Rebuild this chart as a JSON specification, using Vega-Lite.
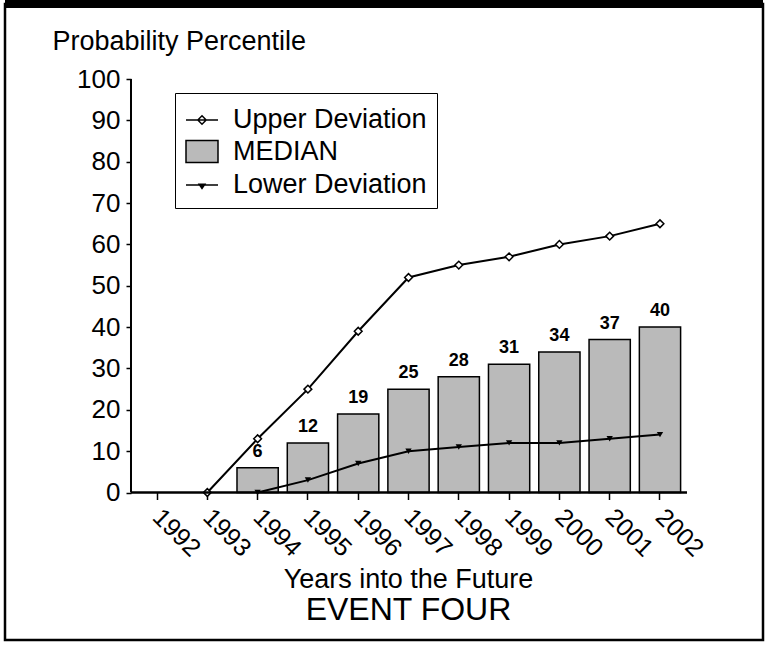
{
  "$schema": "https://vega.github.io/schema/vega-lite/v6.json",
  "width": 768,
  "height": 646,
  "autosize": {"type": "fit", "contains": "padding"},
  "padding": {"left": 1, "top": 0, "right": 1, "bottom": 6},
  "background": "white",
  "config": {
    "font": "Liberation Sans",
    "view": {"stroke": "black", "strokeWidth": 2.5},
    "axis": {
      "grid": false,
      "domain": false,
      "labelColor": "black",
      "labelFont": "Liberation Sans",
      "titleColor": "black",
      "titleFont": "Liberation Sans",
      "titleFontWeight": "normal",
      "tickColor": "black",
      "tickWidth": 1.5
    },
    "legend": {
      "orient": "none",
      "legendX": 170,
      "legendY": 89,
      "title": null,
      "labelFont": "Liberation Sans",
      "labelFontSize": 27,
      "labelColor": "black",
      "labelLimit": 400,
      "labelOffset": 14,
      "symbolSize": 1024,
      "symbolOpacity": 1,
      "symbolStrokeWidth": 1.5,
      "strokeColor": "black",
      "fillColor": "white",
      "padding": 10,
      "rowPadding": 1.5
    },
    "text": {"font": "Liberation Sans", "color": "black"}
  },
  "datasets": {
    "years": [
      {"year": "1992", "median": null, "upper": null, "lower": null},
      {"year": "1993", "median": null, "upper": 0, "lower": null},
      {"year": "1994", "median": 6, "upper": 13, "lower": 0},
      {"year": "1995", "median": 12, "upper": 25, "lower": 3},
      {"year": "1996", "median": 19, "upper": 39, "lower": 7},
      {"year": "1997", "median": 25, "upper": 52, "lower": 10},
      {"year": "1998", "median": 28, "upper": 55, "lower": 11},
      {"year": "1999", "median": 31, "upper": 57, "lower": 12},
      {"year": "2000", "median": 34, "upper": 60, "lower": 12},
      {"year": "2001", "median": 37, "upper": 62, "lower": 13},
      {"year": "2002", "median": 40, "upper": 65, "lower": 14}
    ],
    "series": [
      {"series": "Upper Deviation"},
      {"series": "MEDIAN"},
      {"series": "Lower Deviation"}
    ],
    "caption": [{"label": "EVENT FOUR"}]
  },
  "layer": [
    {
      "data": {"name": "years"},
      "transform": [{"filter": "datum.median != null"}],
      "mark": {"type": "bar", "fill": "#bababa", "stroke": "black", "strokeWidth": 1.5},
      "encoding": {
        "x": {
          "field": "year",
          "type": "nominal",
          "sort": ["1992", "1993", "1994", "1995", "1996", "1997", "1998", "1999", "2000", "2001", "2002"],
          "scale": {
            "domain": ["1992", "1993", "1994", "1995", "1996", "1997", "1998", "1999", "2000", "2001", "2002"],
            "range": [131.4, 675.6],
            "paddingInner": 0.18,
            "paddingOuter": 0
          },
          "axis": {
            "orient": "bottom",
            "offset": -147.5,
            "title": "Years into the Future",
            "titleFontSize": 27,
            "titleX": 403,
            "titleY": 95,
            "titleAlign": "center",
            "titleBaseline": "alphabetic",
            "labelAngle": 45,
            "labelAlign": "left",
            "labelBaseline": "middle",
            "labelFontSize": 25,
            "labelPadding": 13,
            "tickSize": 7
          }
        },
        "y": {
          "field": "median",
          "type": "quantitative",
          "scale": {"domain": [-35.67, 118.14], "nice": false, "zero": false},
          "axis": {
            "orient": "left",
            "offset": -126,
            "values": [0, 10, 20, 30, 40, 50, 60, 70, 80, 90, 100],
            "labelFontSize": 26,
            "labelPadding": 6,
            "tickSize": 5,
            "title": "Probability Percentile",
            "titleFontSize": 27,
            "titleAngle": 0,
            "titleAlign": "left",
            "titleBaseline": "alphabetic",
            "titleX": -79,
            "titleY": 45
          }
        }
      }
    },
    {
      "data": {"name": "years"},
      "transform": [{"filter": "datum.median != null"}],
      "mark": {"type": "text", "baseline": "bottom", "dy": -7, "fontSize": 18, "fontWeight": "bold"},
      "encoding": {
        "x": {"field": "year", "type": "nominal"},
        "y": {"field": "median", "type": "quantitative"},
        "text": {"field": "median", "type": "quantitative"}
      }
    },
    {
      "data": {"name": "years"},
      "transform": [{"filter": "datum.upper != null"}],
      "mark": {"type": "line", "color": "black", "strokeWidth": 2},
      "encoding": {
        "x": {"field": "year", "type": "nominal"},
        "y": {"field": "upper", "type": "quantitative"}
      }
    },
    {
      "data": {"name": "years"},
      "transform": [{"filter": "datum.upper != null"}],
      "mark": {"type": "point", "shape": "diamond", "size": 60, "filled": true, "fill": "white", "stroke": "black", "strokeWidth": 1.5, "opacity": 1},
      "encoding": {
        "x": {"field": "year", "type": "nominal"},
        "y": {"field": "upper", "type": "quantitative"}
      }
    },
    {
      "data": {"name": "years"},
      "transform": [{"filter": "datum.lower != null"}],
      "mark": {"type": "line", "color": "black", "strokeWidth": 2},
      "encoding": {
        "x": {"field": "year", "type": "nominal"},
        "y": {"field": "lower", "type": "quantitative"}
      }
    },
    {
      "data": {"name": "years"},
      "transform": [{"filter": "datum.lower != null"}],
      "mark": {"type": "point", "shape": "triangle-down", "size": 40, "filled": true, "fill": "black", "opacity": 1},
      "encoding": {
        "x": {"field": "year", "type": "nominal"},
        "y": {"field": "lower", "type": "quantitative"}
      }
    },
    {
      "data": {"name": "caption"},
      "mark": {"type": "rule", "color": "black", "strokeWidth": 2},
      "encoding": {
        "x": {"datum": "1992", "type": "nominal", "bandPosition": -0.131},
        "y": {"datum": 0, "type": "quantitative"},
        "y2": {"datum": 100}
      }
    },
    {
      "data": {"name": "caption"},
      "mark": {"type": "rule", "color": "black", "strokeWidth": 2.5},
      "encoding": {
        "x": {"datum": "1992", "type": "nominal", "bandPosition": -0.131},
        "x2": {"datum": "2002", "bandPosition": 1.155},
        "y": {"datum": 0, "type": "quantitative"}
      }
    },
    {
      "data": {"name": "caption"},
      "mark": {"type": "rule", "color": "black", "strokeWidth": 8},
      "encoding": {
        "y": {"datum": 118.14, "type": "quantitative"}
      }
    },
    {
      "data": {"name": "caption"},
      "mark": {"type": "text", "fontSize": 32, "baseline": "middle", "align": "center"},
      "encoding": {
        "x": {"datum": "1997", "type": "nominal"},
        "y": {"datum": -28.4, "type": "quantitative"},
        "text": {"field": "label", "type": "nominal"}
      }
    },
    {
      "data": {"name": "series"},
      "mark": {"type": "point", "opacity": 0, "filled": true, "strokeWidth": 1.5},
      "encoding": {
        "shape": {
          "field": "series",
          "type": "nominal",
          "scale": {
            "domain": ["Upper Deviation", "MEDIAN", "Lower Deviation"],
            "range": [
              "M-1,0H1M0,-0.26L0.26,0L0,0.26L-0.26,0Z",
              "M-1,-0.69H1V0.69H-1Z",
              "M-1,0H1M-0.18,-0.05H0.18L0,0.22Z"
            ]
          }
        },
        "fill": {
          "field": "series",
          "type": "nominal",
          "scale": {
            "domain": ["Upper Deviation", "MEDIAN", "Lower Deviation"],
            "range": ["white", "#bababa", "black"]
          }
        },
        "stroke": {
          "field": "series",
          "type": "nominal",
          "scale": {
            "domain": ["Upper Deviation", "MEDIAN", "Lower Deviation"],
            "range": ["black", "black", "black"]
          }
        }
      }
    }
  ]
}
